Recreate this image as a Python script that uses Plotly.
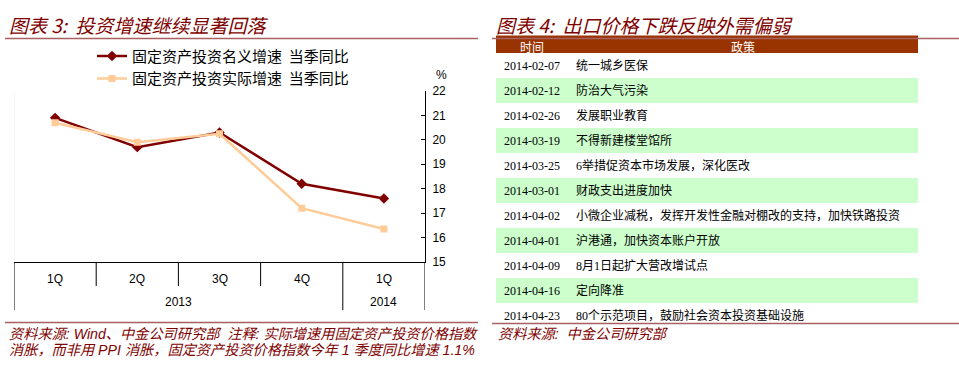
import plotly.graph_objects as go

W, H = 959, 369

# ---------------- data ----------------
quarters = ["1Q", "2Q", "3Q", "4Q", "1Q"]
years = ["2013", "2013", "2013", "2013", "2014"]
nominal = [20.9, 19.7, 20.3, 18.2, 17.6]
real = [20.7, 19.9, 20.25, 17.2, 16.35]
name_nominal = "固定资产投资名义增速  当季同比"
name_real = "固定资产投资实际增速  当季同比"
y_ticks = [15, 16, 17, 18, 19, 20, 21, 22]

table_header = ["时间", "政策"]
dates = ["2014-02-07", "2014-02-12", "2014-02-26", "2014-03-19", "2014-03-25",
         "2014-03-01", "2014-04-02", "2014-04-01", "2014-04-09", "2014-04-16",
         "2014-04-23"]
policies = ["统一城乡医保", "防治大气污染", "发展职业教育", "不得新建楼堂馆所",
            "6举措促资本市场发展，深化医改", "财政支出进度加快",
            "小微企业减税，发挥开发性金融对棚改的支持，加快铁路投资",
            "沪港通，加快资本账户开放", "8月1日起扩大营改增试点", "定向降准",
            "80个示范项目，鼓励社会资本投资基础设施"]

title_left = "图表 3:  投资增速继续显著回落"
title_right = "图表 4:  出口价格下跌反映外需偏弱"
note_left_1 = "资料来源: Wind、中金公司研究部  注释: 实际增速用固定资产投资价格指数"
note_left_2 = "消胀，而非用 PPI 消胀，固定资产投资价格指数今年 1 季度同比增速 1.1%"
note_right = "资料来源:  中金公司研究部"

# ---------------- helpers ----------------
def px(x):
    return x / W

def py(y):
    return 1 - y / H

DARK = "#800000"
RULE = "#a86060"
CJK = "Noto Sans CJK SC"
SANS = "Liberation Sans, Arial, " + CJK
SERIF = "Liberation Serif, " + CJK

xs = list(range(len(quarters)))

fig = go.Figure()
fig.add_trace(go.Scatter(
    x=xs, y=nominal, name=name_nominal, mode="lines+markers",
    line=dict(color="#800000", width=2.5),
    marker=dict(symbol="diamond", size=8, color="#800000"),
))
fig.add_trace(go.Scatter(
    x=xs, y=real, name=name_real, mode="lines+markers",
    line=dict(color="#ffcc99", width=2.5),
    marker=dict(symbol="square", size=7, color="#ffcc99"),
))

# table
row_fill = ["#ffffff" if i % 2 == 0 else "#ccffcc" for i in range(len(dates))]
fig.add_trace(go.Table(
    domain=dict(x=[px(496), px(918)], y=[py(344), py(29.5)]),
    columnwidth=[72, 350],
    header=dict(values=table_header, fill_color="#993300",
                line=dict(color="#993300", width=0),
                font=dict(family=SERIF, size=12, color="white"),
                align="center", height=18),
    cells=dict(values=[dates, policies],
               fill_color=[row_fill, row_fill],
               line=dict(color=[row_fill, row_fill], width=0),
               font=dict(family=SERIF, size=12, color="black"),
               align="left", height=25),
))

plot_left, plot_right = 14, 425
axis_bottom, cat_bottom, year_bottom = 265, 290, 315

fig.update_layout(
    width=W, height=H,
    margin=dict(l=0, r=0, t=0, b=0),
    paper_bgcolor="white", plot_bgcolor="white",
    showlegend=True,
    legend=dict(x=px(92), y=py(34), xanchor="left", yanchor="top",
                font=dict(family=CJK, size=15, color="black"),
                bgcolor="rgba(0,0,0,0)", tracegroupgap=0),
    xaxis=dict(domain=[px(plot_left), px(plot_right)], range=[-0.5, len(xs) - 0.5],
               showticklabels=False, showgrid=False, zeroline=False,
               showline=True, linecolor="black", linewidth=1, ticks=""),
    yaxis=dict(domain=[py(axis_bottom), py(87.3)], range=[15, 22], side="right",
               tickvals=y_ticks, showgrid=False, zeroline=False,
               showline=True, linecolor="black", linewidth=1,
               ticks="inside", ticklen=4, tickcolor="black", ticklabelstandoff=4,
               tickfont=dict(family=SANS, size=12, color="black")),
)

shapes = []
annotations = []

# category dividers
for i in range(len(xs) - 1):
    bottom = year_bottom if years[i] != years[i + 1] else cat_bottom
    shapes.append(dict(type="line", xref="x", yref="paper", x0=i + 0.5, x1=i + 0.5,
                       y0=py(axis_bottom), y1=py(bottom), line=dict(color="black", width=1)))
for xe in (-0.5, len(xs) - 0.5):
    shapes.append(dict(type="line", xref="x", yref="paper", x0=xe, x1=xe,
                       y0=py(axis_bottom), y1=py(year_bottom), line=dict(color="black", width=1)))
# faint left frame
shapes.append(dict(type="line", xref="x", yref="paper", x0=-0.5, x1=-0.5,
                   y0=py(87), y1=py(axis_bottom), line=dict(color="#f2f2f2", width=1)))

for i, q in enumerate(quarters):
    annotations.append(dict(x=i, y=py(283), xref="x", yref="paper", text=q, showarrow=False,
                            font=dict(family=SANS, size=12, color="black"),
                            xanchor="center", yanchor="middle"))
# year groups
start = 0
for i in range(1, len(years) + 1):
    if i == len(years) or years[i] != years[start]:
        annotations.append(dict(x=(start + i - 1) / 2, y=py(307), xref="x", yref="paper",
                                text=years[start], showarrow=False,
                                font=dict(family=SANS, size=12, color="black"),
                                xanchor="center", yanchor="middle"))
        start = i

annotations.append(dict(x=px(441), y=py(71), xref="paper", yref="paper", text="%",
                        showarrow=False, font=dict(family=SANS, size=12, color="black"),
                        xanchor="center", yanchor="middle"))

# titles and rules
for x, text in ((7, title_left), (494, title_right)):
    annotations.append(dict(x=px(x), y=py(18.5), xref="paper", yref="paper", text=text,
                            showarrow=False, xanchor="left", yanchor="middle",
                            font=dict(family=CJK, size=19, color=DARK, style="italic")))
shapes.append(dict(type="line", xref="paper", yref="paper", x0=px(5), x1=px(478),
                   y0=py(32.7), y1=py(32.7), line=dict(color=RULE, width=1.5)))
shapes.append(dict(type="line", xref="paper", yref="paper", x0=px(492), x1=px(959),
                   y0=py(32.7), y1=py(32.7), line=dict(color=RULE, width=1.5)))
shapes.append(dict(type="line", xref="paper", yref="paper", x0=px(5), x1=px(478),
                   y0=py(328), y1=py(328), line=dict(color=RULE, width=1.5)))
shapes.append(dict(type="line", xref="paper", yref="paper", x0=px(492), x1=px(959),
                   y0=py(329), y1=py(329), line=dict(color=RULE, width=1.5)))

# footnotes
for x, y, text in ((7, 340, note_left_1), (7, 357, note_left_2), (496, 340, note_right)):
    annotations.append(dict(x=px(x), y=py(y), xref="paper", yref="paper", text=text,
                            showarrow=False, xanchor="left", yanchor="middle",
                            font=dict(family=SANS, size=14.2, color=DARK, style="italic")))

fig.update_layout(shapes=shapes, annotations=annotations)
fig.write_html(
    "out.html",
    config={"displayModeBar": False},
    post_script="document.body.style.margin='0';document.body.style.padding='0';"
                "document.documentElement.style.overflow='hidden';",
)
